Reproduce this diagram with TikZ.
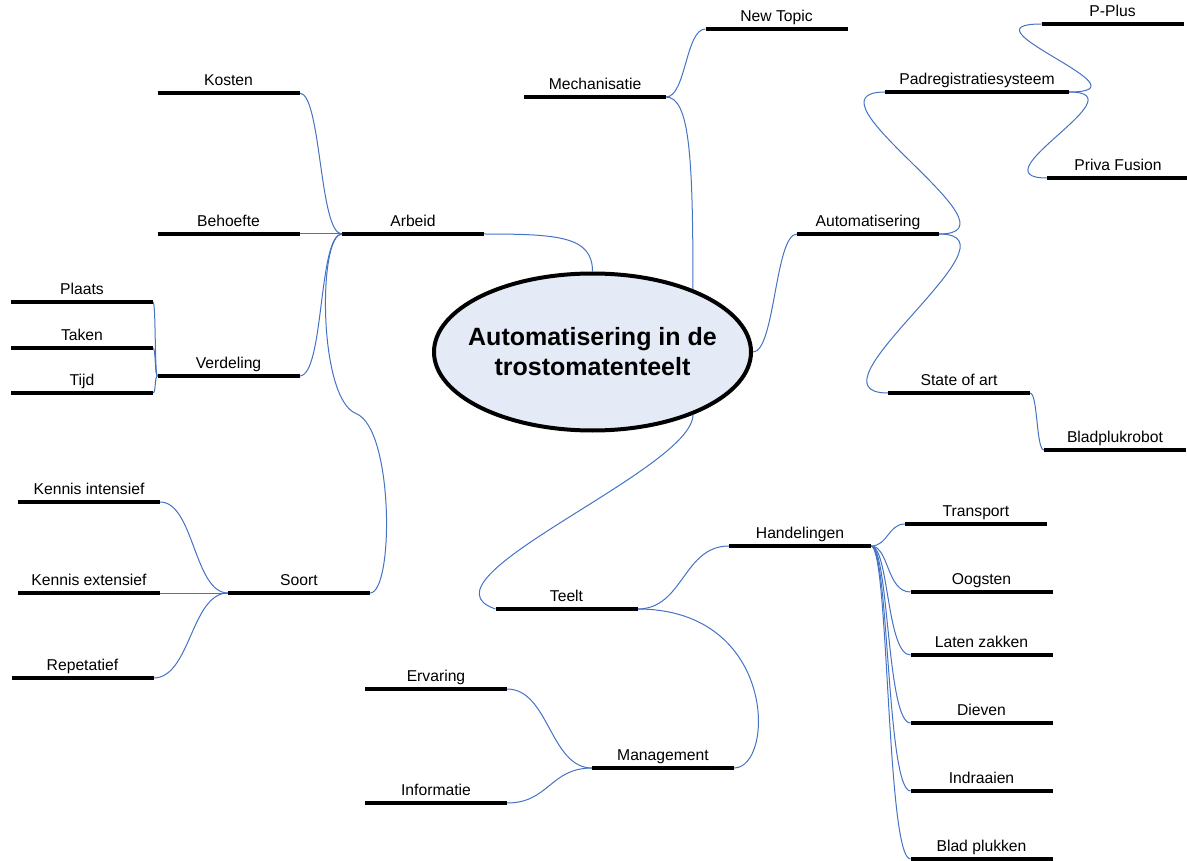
\documentclass[tikz,border=0pt]{standalone}
\usepackage{fontspec}
\setmainfont{Liberation Sans}
\usetikzlibrary{shapes.geometric,calc}
\definecolor{linkblue}{RGB}{68,114,196}
\definecolor{corefill}{RGB}{228,235,246}
\begin{document}
\begin{tikzpicture}[x=1pt,y=-1pt,
  topic/.style={inner sep=0pt, outer sep=0pt, anchor=south, minimum width=142pt,
    text depth=7.5pt, font=\fontsize{15.7}{18}\selectfont},
  wide/.style={minimum width=184pt},
  bar/.style={line width=4pt},
  link/.style={draw=linkblue, line width=1pt},
  core/.style={ellipse, draw, line width=4pt, fill=corefill,
    minimum width=317pt, minimum height=157pt, inner sep=0pt},
  title/.style={align=center, inner sep=0pt, font=\bfseries\fontsize{25}{30}\selectfont},
]
\useasboundingbox (0,0) rectangle (1187,861);

% central topic
\node[core] (ct) at (592.5,352) {};
\node[title] (ttl) at (ct) {Automatisering in de\\trostomatenteelt};

% main branches and their subtopics (placed at the bar centre)
\node[topic] (newtopic)   at (776.5,29)  {New Topic};
\node[topic] (mech)       at (595,97)    {Mechanisatie};
\node[topic] (kosten)     at (228.5,93)  {Kosten};
\node[topic] (arbeid)     at (413,234)   {Arbeid};
\node[topic] (behoefte)   at (228.5,234) {Behoefte};
\node[topic] (verdeling)  at (228.5,376) {Verdeling};
\node[topic] (plaats)     at (82,302)    {Plaats};
\node[topic] (taken)      at (82,348)    {Taken};
\node[topic] (tijd)       at (82,393)    {Tijd};
\node[topic] (kint)       at (89,502)    {Kennis intensief};
\node[topic] (kext)       at (89,593)    {Kennis extensief};
\node[topic] (rep)        at (82.5,678)  {Repetatief};
\node[topic] (soort)      at (299,593)   {Soort};
\node[topic,wide] (padreg) at (977,92)   {Padregistratiesysteem};
\node[topic] (pplus)      at (1112.5,24) {P-Plus};
\node[topic] (priva)      at (1118,178)  {Priva Fusion};
\node[topic] (autom)      at (868,234)   {Automatisering};
\node[topic] (state)      at (959,393)   {State of art};
\node[topic] (blad)       at (1115,450)  {Bladplukrobot};
\node[topic] (handel)     at (800,546)   {Handelingen};
\node[topic] (transport)  at (976,524)   {Transport};
\node[topic] (oogsten)    at (981.5,592) {Oogsten};
\node[topic] (laten)      at (981.5,655) {Laten zakken};
\node[topic] (dieven)     at (981.5,723) {Dieven};
\node[topic] (indraaien)  at (981.5,791) {Indraaien};
\node[topic] (bladpl)     at (981.5,859) {Blad plukken};
\node[topic] (teelt)      at (566.5,609) {Teelt};
\node[topic] (management) at (663,768)   {Management};
\node[topic] (ervaring)   at (436,689)   {Ervaring};
\node[topic] (informatie) at (436,803)   {Informatie};

% connectors
\draw[link] (ct.north) .. controls +(0,-35) and +(75,0) .. (arbeid.south east);
\draw[link] (arbeid.south west) .. controls +(-23,0) and +(22,0) .. (kosten.south east);
\draw[link] (arbeid.south west) -- (behoefte.south east);
\draw[link] (arbeid.south west) .. controls +(-24,0) and +(25,0) .. (verdeling.south east);
\draw[link] (arbeid.south west) .. controls +(-24,0) and +(-38,-15)
  .. ($(arbeid.south west)!.5!(soort.south east)$)
  .. controls +(38,15) and +(24,0) .. (soort.south east);
\foreach \c in {plaats,taken,tijd}
  \draw[link] (verdeling.south west) .. controls +(-3,0) and +(3,0) .. (\c.south east);
\draw[link] (soort.south west) .. controls +(-34,0) and +(34,0) .. (kint.south east);
\draw[link] (soort.south west) -- (kext.south east);
\draw[link] (soort.south west) .. controls +(-37,0) and +(37,0) .. (rep.south east);

\draw[link] (ct.32) .. controls +(0,-130) and +(24,0) .. (mech.south east);
\draw[link] (mech.south east) .. controls +(20,0) and +(-20,0) .. (newtopic.south west);

\draw[link] (ct.east) .. controls +(22,0) and +(-22,0) .. (autom.south west);
\draw[link] (autom.south east) .. controls +(90,0) and +(-90,0) .. (padreg.south west);
\draw[link] (autom.south east) .. controls +(90,0) and +(-90,0) .. (state.south west);
\draw[link] (padreg.south east) .. controls +(86,0) and +(-86,0) .. (pplus.south west);
\draw[link] (padreg.south east) .. controls +(74,0) and +(-74,0) .. (priva.south west);
\draw[link] (state.south east) .. controls +(8,0) and +(-8,0) .. (blad.south west);

\draw[link] (ct.-32) .. controls +(0,55) and +(-86,-29) .. (teelt.south west);
\draw[link] (teelt.south east) .. controls +(46,0) and +(-46,0) .. (handel.south west);
\draw[link] (teelt.south east) .. controls +(140,0) and +(41,0) .. (management.south east);
\draw[link] (management.south west) .. controls +(-42,0) and +(42,0) .. (ervaring.south east);
\draw[link] (management.south west) .. controls +(-42,0) and +(42,0) .. (informatie.south east);
\draw[link] (handel.south east) .. controls +(17,0) and +(-17,0) .. (transport.south west);
\foreach \c in {oogsten,laten,dieven,indraaien,bladpl}
  \draw[link] (handel.south east) .. controls +(18,0) and +(-24,0) .. (\c.south west);

% thick underlines of the topics
\foreach \n in {newtopic,mech,kosten,arbeid,behoefte,verdeling,plaats,taken,tijd,
  kint,kext,rep,soort,padreg,pplus,priva,autom,state,blad,handel,transport,
  oogsten,laten,dieven,indraaien,bladpl,teelt,management,ervaring,informatie}
  \draw[bar] (\n.south west) -- (\n.south east);
\end{tikzpicture}
\end{document}
